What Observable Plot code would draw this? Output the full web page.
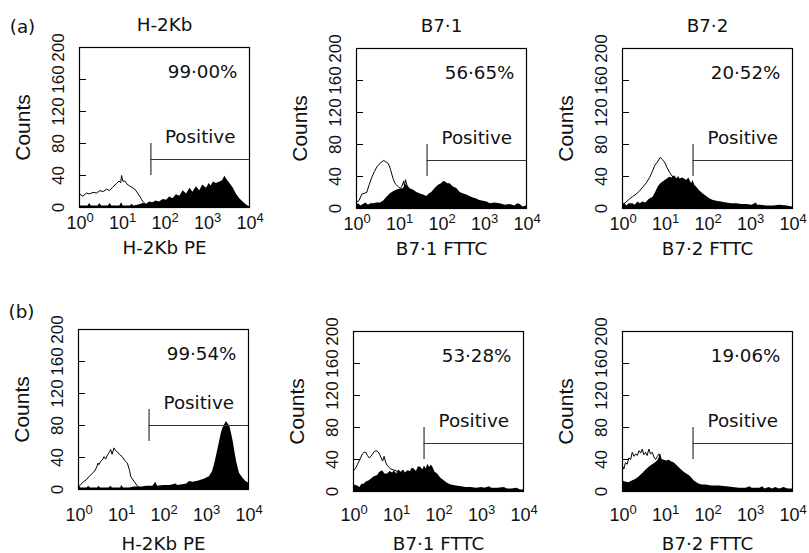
<!DOCTYPE html>
<html>
<head>
<meta charset="utf-8">
<script src="https://cdn.jsdelivr.net/npm/d3@7"></script>
<script src="https://cdn.jsdelivr.net/npm/@observablehq/plot@0.6"></script>
<style>
  html, body { margin: 0; padding: 0; background: #fff; overflow: hidden; }
  #wrap { position: relative; width: 809px; height: 553px; overflow: hidden; }
  #wrap svg { position: absolute; overflow: visible; }
</style>
</head>
<body>
<div id="wrap"></div>
<script>
// ---- Data: x = log10 fluorescence (decades), y = counts ----
const h2kbA_ctrl = [[0,17],[0.08,14],[0.16,18],[0.24,17],[0.32,19],[0.4,18],[0.48,21],[0.56,20],[0.64,23],[0.7,21],[0.79,26],[0.87,30],[0.93,33],[0.97,31],[0.99,40],[1.02,33],[1.07,33],[1.12,29],[1.18,27],[1.24,25],[1.3,23],[1.38,17],[1.43,13],[1.46,10],[1.5,7],[1.54,5],[1.6,2],[1.7,0]];
const h2kbA_stain = [[0,2],[0.2,2],[0.24,5],[0.28,2],[0.44,2],[0.48,5],[0.52,2],[0.68,2],[0.72,5],[0.76,2],[0.95,2],[0.99,6],[1.03,2],[1.2,2],[1.24,4],[1.28,2],[1.4,3],[1.5,5],[1.58,4],[1.65,7],[1.73,6],[1.8,8],[1.88,7],[1.97,10],[2.05,9],[2.12,13],[2.2,11],[2.28,16],[2.36,14],[2.44,21],[2.52,17],[2.6,24],[2.67,19],[2.75,26],[2.83,21],[2.9,28],[2.99,24],[3.05,30],[3.1,27],[3.15,32],[3.22,30],[3.3,32],[3.36,33],[3.42,39],[3.48,34],[3.54,30],[3.62,24],[3.69,17],[3.77,11],[3.85,7],[3.93,3],[4,1]];

const b71A_ctrl = [[0,8],[0.06,10],[0.125,18],[0.18,19],[0.24,20],[0.3,30],[0.36,39],[0.42,46],[0.48,52],[0.56,57],[0.64,60],[0.7,58],[0.75,56],[0.8,49],[0.83,43],[0.87,36],[0.91,31],[0.95,29],[0.99,27],[1.03,25],[1.07,28],[1.11,34],[1.13,28],[1.15,36],[1.19,29],[1.22,26],[1.3,18],[1.4,8],[1.5,2],[1.6,0]];
const b71A_stain = [[0,4],[0.05,6],[0.1,3],[0.165,5],[0.22,7],[0.28,4],[0.34,6],[0.4,6],[0.48,7],[0.56,7],[0.635,9],[0.7,13],[0.79,18],[0.87,21],[0.95,23],[1.02,24],[1.106,25],[1.16,30],[1.22,27],[1.28,24],[1.34,23],[1.42,20],[1.5,18],[1.58,17],[1.655,15],[1.71,18],[1.77,20],[1.85,25],[1.93,29],[2.0,31],[2.06,34],[2.09,33],[2.15,31],[2.2,31],[2.28,27],[2.36,25],[2.44,20],[2.52,18],[2.6,17],[2.67,15],[2.75,13],[2.83,12],[2.9,10],[2.99,9],[3.07,8],[3.15,6],[3.25,7],[3.38,6],[3.5,4],[3.62,5],[3.72,3],[3.8,6],[3.85,5],[3.92,2],[4,3]];

const b72A_ctrl = [[0,4],[0.08,8],[0.166,12],[0.24,15],[0.32,18],[0.4,22],[0.48,27],[0.56,32],[0.64,39],[0.7,46],[0.76,54],[0.82,58],[0.89,64],[0.94,61],[0.99,58],[1.05,51],[1.11,45],[1.15,42],[1.19,39],[1.25,37],[1.31,35],[1.4,28],[1.5,18],[1.6,10],[1.7,5],[1.8,2],[1.9,0]];
const b72A_stain = [[0,4],[0.05,7],[0.1,3],[0.16,6],[0.245,6],[0.3,4],[0.36,8],[0.42,6],[0.48,8],[0.55,7],[0.62,11],[0.72,14],[0.78,20],[0.84,27],[0.9,31],[0.955,33],[1.03,36],[1.11,39],[1.17,38],[1.23,41],[1.28,37],[1.32,40],[1.35,37],[1.42,38],[1.51,35],[1.56,38],[1.625,31],[1.66,35],[1.7,29],[1.74,27],[1.82,22],[1.9,18],[1.98,15],[2.06,12],[2.14,10],[2.22,9],[2.33,8],[2.45,7],[2.57,6],[2.69,6],[2.8,5],[2.93,5],[3.05,4],[3.15,7],[3.18,4],[3.24,4],[3.4,3],[3.56,3],[3.7,4],[3.87,3],[4,2]];

const h2kbB_ctrl = [[0,3],[0.047,6],[0.126,10],[0.18,12],[0.245,16],[0.3,19],[0.363,22],[0.42,27],[0.46,33],[0.48,31],[0.52,35],[0.56,37],[0.6,41],[0.64,38],[0.68,43],[0.72,46],[0.757,50],[0.79,44],[0.836,52],[0.87,49],[0.915,47],[0.96,44],[1.03,41],[1.09,36],[1.15,33],[1.2,24],[1.23,16],[1.31,10],[1.39,4],[1.47,1],[1.55,0]];
const h2kbB_stain = [[0,4],[0.06,2],[0.2,2],[0.24,4],[0.28,2],[0.45,2],[0.48,4],[0.52,2],[0.72,2],[0.76,4],[0.8,2],[0.99,2],[1.02,5],[1.06,2],[1.2,2],[1.3,3],[1.5,3],[1.6,4],[1.75,4],[1.82,9],[1.86,4],[2.0,5],[2.15,5],[2.3,7],[2.33,5],[2.45,6],[2.55,7],[2.61,10],[2.7,9],[2.78,10],[2.85,11],[2.97,13],[3.08,16],[3.15,22],[3.2,31],[3.26,45],[3.32,60],[3.36,70],[3.4,77],[3.44,81],[3.48,85],[3.52,82],[3.56,79],[3.6,70],[3.64,60],[3.68,47],[3.72,35],[3.76,26],[3.79,20],[3.87,14],[3.94,10],[4,8]];

const b71B_ctrl = [[0,26],[0.05,29],[0.094,34],[0.15,40],[0.21,47],[0.25,49],[0.29,49],[0.33,45],[0.37,42],[0.41,44],[0.45,47],[0.49,50],[0.53,51],[0.57,50],[0.61,47],[0.65,42],[0.685,38],[0.72,44],[0.76,36],[0.8,32],[0.84,30],[0.88,28],[0.94,27],[1.0,26],[1.1,22],[1.2,14],[1.3,6],[1.4,0]];
const b71B_stain = [[0,5],[0.04,8],[0.094,7],[0.15,5],[0.2,9],[0.25,9],[0.3,12],[0.36,13],[0.41,15],[0.48,18],[0.567,20],[0.62,24],[0.685,26],[0.74,22],[0.8,22],[0.86,25],[0.92,23],[0.96,26],[1.02,22],[1.06,27],[1.12,24],[1.18,27],[1.22,23],[1.28,26],[1.34,25],[1.38,29],[1.43,28],[1.48,25],[1.53,31],[1.59,30],[1.63,27],[1.67,32],[1.71,28],[1.75,34],[1.79,30],[1.83,33],[1.87,30],[1.92,24],[1.98,22],[2.05,17],[2.14,13],[2.22,10],[2.3,8],[2.42,7],[2.54,6],[2.65,5],[2.77,5],[2.9,4],[3.02,5],[3.09,4],[3.2,6],[3.25,4],[3.4,4],[3.55,5],[3.62,3],[3.72,3],[3.85,4],[3.93,2],[4,2]];

const b72B_ctrl = [[0,32],[0.03,28],[0.07,36],[0.11,34],[0.15,42],[0.19,40],[0.23,49],[0.27,44],[0.31,47],[0.35,45],[0.39,51],[0.43,48],[0.465,53],[0.5,46],[0.544,49],[0.58,45],[0.62,53],[0.66,47],[0.7,49],[0.74,43],[0.78,40],[0.82,44],[0.86,47],[0.9,40],[0.98,35],[1.1,30],[1.2,20],[1.3,10],[1.4,3],[1.5,0]];
const b72B_stain = [[0,13],[0.07,12],[0.15,11],[0.23,13],[0.31,15],[0.39,18],[0.465,22],[0.54,26],[0.62,30],[0.7,33],[0.78,36],[0.84,39],[0.9,47],[0.93,40],[0.98,39],[1.04,38],[1.1,39],[1.16,37],[1.21,36],[1.27,33],[1.33,30],[1.39,27],[1.45,24],[1.51,22],[1.57,20],[1.63,17],[1.69,13],[1.75,11],[1.81,9],[1.88,8],[1.96,8],[2.1,7],[2.28,7],[2.45,6],[2.6,5],[2.75,4],[2.91,4],[3.0,6],[3.05,4],[3.23,4],[3.3,6],[3.35,3],[3.45,5],[3.54,3],[3.6,5],[3.7,3],[3.8,5],[3.9,3],[4,3]];

// ---- Labels / annotations ----
const panelTitles = ["H-2Kb", "B7·1", "B7·2", "", "", ""];
const xLabels = ["H-2Kb PE", "B7·1 FTTC", "B7·2 FTTC", "H-2Kb PE", "B7·1 FTTC", "B7·2 FTTC"];
const percents = ["99·00%", "56·65%", "20·52%", "99·54%", "53·28%", "19·06%"];
const gateX = [1.68, 1.66, 1.66, 1.66, 1.66, 1.66];
const gateY = [60, 60, 60, 80, 60, 60];
const rowLabels = ["(a)", "(b)"];
const yTicks = [0, 40, 80, 120, 160, 200];
const yTickMarks = [40, 80, 120, 160];
const xTicks = [0, 1, 2, 3, 4];
const xTickExp = ["0", "1", "2", "3", "4"];
const controls = [h2kbA_ctrl, b71A_ctrl, b72A_ctrl, h2kbB_ctrl, b71B_ctrl, b72B_ctrl];
const stains = [h2kbA_stain, b71A_stain, b72A_stain, h2kbB_stain, b71B_stain, b72B_stain];

// ---- Layout ----
const frameOrigins = [[79,47],[356,48],[622,48],[78,329],[353,331],[622,331]];
const tickOffsets = [15.5, 16, 16, 26, 24, 24];
const titleOffsets = [41, 41, 41, 55, 53, 53];
const ML = 79, MT = 47, IW = 170, IH = 160, MR = 16, MB = 66;
const wordFont = "'DejaVu Sans', sans-serif";
const sansFont = "'Liberation Sans', Arial, sans-serif";

const wrap = document.getElementById("wrap");

for (let i = 0; i < 6; i++) {
  const row = i < 3 ? 0 : 1;
  const tickDy = tickOffsets[i];
  const titleDy = titleOffsets[i];
  const gate = {x: gateX[i], y: gateY[i]};
  const marks = [
    Plot.line(controls[i], {x: d => d[0], y: d => d[1], stroke: "#000", strokeWidth: 1}),
    Plot.areaY(stains[i], {x: d => d[0], y: d => d[1], fill: "#000"}),
    Plot.frame({stroke: "#000", strokeWidth: 1.2}),
    Plot.tickY(yTickMarks, {y: d => d, insetRight: IW - 7, stroke: "#000", strokeWidth: 1}),
    Plot.ruleY([gate], {x1: d => d.x, x2: () => 4, y: d => d.y, stroke: "#333", strokeWidth: 1.2}),
    Plot.ruleX([gate], {x: d => d.x, y1: d => d.y - 20, y2: d => d.y + 20, stroke: "#333", strokeWidth: 1.2}),
    Plot.text([gate], {x: d => (d.x + 4) / 2, y: d => d.y, dy: -22, text: () => "Positive",
      fontFamily: wordFont, fontSize: 18.3, fill: "#111", textAnchor: "middle", lineAnchor: "middle"}),
    Plot.text([percents[i]], {text: d => d, frameAnchor: "top-right", dx: -12, dy: 25,
      textAnchor: "end", lineAnchor: "middle", fontFamily: wordFont, fontSize: 18.3, fill: "#111"}),
    Plot.text(yTicks, {y: d => d, text: d => String(d), frameAnchor: "left", dx: -21, rotate: -90,
      textAnchor: "middle", lineAnchor: "middle", fontFamily: sansFont, fontSize: 17, fill: "#111"}),
    Plot.text(["Counts"], {text: d => d, frameAnchor: "left", dx: -56, rotate: -90,
      textAnchor: "middle", lineAnchor: "middle", fontFamily: sansFont, fontSize: 21, fill: "#111"}),
    Plot.text(xTicks, {x: d => d, text: () => "10", frameAnchor: "bottom", dy: tickDy, dx: -3,
      textAnchor: "middle", lineAnchor: "middle", fontFamily: sansFont, fontSize: 18, fill: "#111"}),
    Plot.text(xTicks, {x: d => d, text: (d, j) => xTickExp[j], frameAnchor: "bottom", dy: tickDy - 5.5, dx: 7,
      textAnchor: "start", lineAnchor: "middle", fontFamily: sansFont, fontSize: 13, fill: "#111"}),
    Plot.text([xLabels[i]], {text: d => d, frameAnchor: "bottom", dy: titleDy,
      textAnchor: "middle", lineAnchor: "middle", fontFamily: wordFont, fontSize: 18.3, fill: "#111"})
  ];
  if (panelTitles[i]) {
    marks.push(Plot.text([panelTitles[i]], {text: d => d, frameAnchor: "top", dy: -22,
      textAnchor: "middle", lineAnchor: "middle", fontFamily: wordFont, fontSize: 18.3, fill: "#111"}));
  }
  if (i % 3 === 0) {
    marks.push(Plot.text([rowLabels[row]], {text: d => d, frameAnchor: "top-left", dx: -57, dy: row === 0 ? -20 : -17,
      textAnchor: "middle", lineAnchor: "middle", fontFamily: wordFont, fontSize: 18.3, fill: "#111"}));
  }
  const svg = Plot.plot({
    width: ML + IW + MR,
    height: MT + IH + MB,
    marginLeft: ML, marginRight: MR, marginTop: MT, marginBottom: MB,
    x: {domain: [0, 4], axis: null},
    y: {domain: [0, 200], axis: null},
    style: {background: "transparent", overflow: "visible"},
    marks
  });
  svg.style.left = (frameOrigins[i][0] - ML) + "px";
  svg.style.top = (frameOrigins[i][1] - MT) + "px";
  wrap.appendChild(svg);
}
</script>
</body>
</html>
